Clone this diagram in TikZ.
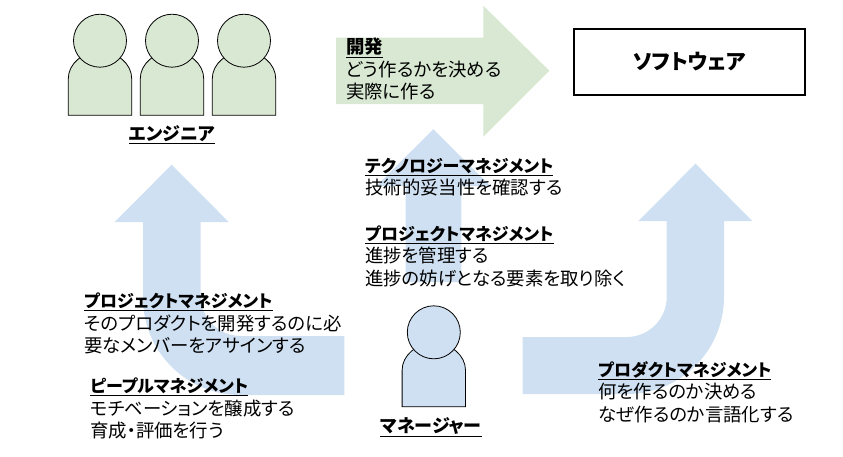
\documentclass[tikz,border=0pt]{standalone}
\usepackage{fontspec}
\setmainfont[RawFeature=+palt]{Noto Sans CJK JP}
\definecolor{engineergreen}{HTML}{D8E8D2}
\definecolor{managerblue}{HTML}{CFE0F2}
\tikzset{
    person/.style={draw=black, line width=0.8pt},
    blockarrow/.style={fill=managerblue, draw=none},
    memo/.style={align=left, anchor=north west, inner sep=0pt, font=\fontsize{18.4}{22.5}\selectfont},
    rolename/.style={inner sep=0pt, font=\fontsize{18}{20}\selectfont\bfseries},
}
\newcommand{\head}[1]{\underline{\fontsize{17}{22.5}\selectfont\textbf{#1}}}
\newcommand{\drawperson}[3]{% center x, head y, fill
    \draw[person, fill=#3] (#1-31.7,#2+74.5) -- (#1-31.7,#2+38)
        arc[start angle=180, end angle=0, x radius=31.7, y radius=-27] -- (#1+31.7,#2+74.5) -- cycle;
    \draw[person, fill=#3] (#1,#2) circle (26.5);
}
\begin{document}
\begin{tikzpicture}[x=1pt, y=-1pt]
    \useasboundingbox (0,0) rectangle (843,456);
    % arrows
    \fill[blockarrow] (405.7,282) -- (405.7,186) -- (376.3,186) -- (433.3,129.3) -- (490.3,186) -- (461.3,186) -- (461.3,282) -- cycle;
    \fill[blockarrow] (344.3,395) -- (240,395) arc[start angle=90, end angle=180, radius=97] -- (143,222) -- (114.7,222) -- (171.7,164.7) -- (228.7,222) -- (200.7,222) -- (200.7,296)
        arc[start angle=180, end angle=90, radius=40] -- (344.3,336) -- cycle;
    \fill[blockarrow] (522.7,394) -- (627,394) arc[start angle=90, end angle=0, radius=97] -- (724,221) -- (752.3,221) -- (695.5,163.7) -- (638.3,221) -- (666.7,221) -- (666.7,297)
        arc[start angle=0, end angle=90, radius=40] -- (522.7,337) -- cycle;
    \fill[engineergreen] (336,37.7) -- (483.3,37.7) -- (483.3,5.7) -- (549.3,70.7) -- (483.3,136.7) -- (483.3,104) -- (336,104) -- cycle;
    % people
    \foreach \x in {100,172,244} {
        \drawperson{\x}{40.7}{engineergreen}
    }
    \drawperson{433.8}{332.3}{managerblue}
    \node[draw=black, line width=1.2pt, minimum width=231pt, minimum height=66pt, font=\fontsize{21}{24}\selectfont\bfseries] (software) at (689.5,62) {ソフトウェア};
    \node[rolename] (engineer) at (172,134.5) {\underline{エンジニア}};
    \node[rolename] (manager) at (431,427) {\underline{マネージャー}};
    % memos
    \node[memo] (dev) at (346,38) {\underline{\textbf{開発}}\\どう作るかを決める\\実際に作る};
    \node[memo] (tech) at (365,158) {\head{テクノロジーマネジメント}\\技術的妥当性を確認する};
    \node[memo] (pm) at (365,225.5) {\head{プロジェクトマネジメント}\\進捗を管理する\\進捗の妨げとなる要素を取り除く};
    \node[memo] (assign) at (84,293) {\head{プロジェクトマネジメント}\\そのプロダクトを開発するのに必\\要なメンバーをアサインする};
    \node[memo] (people) at (90,378) {\head{ピープルマネジメント}\\モチベーションを醸成する\\育成・評価を行う};
    \node[memo] (product) at (598,361) {\head{プロダクトマネジメント}\\何を作るのか決める\\なぜ作るのか言語化する};
\end{tikzpicture}
\end{document}
